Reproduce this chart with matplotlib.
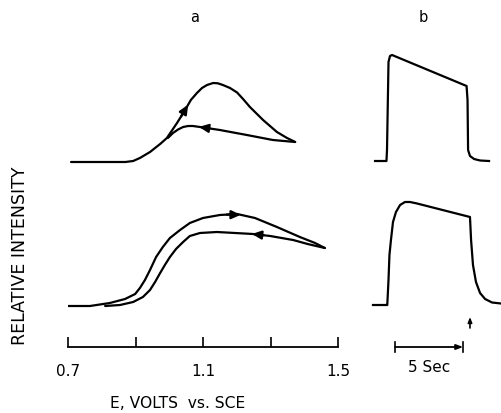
import numpy as np
import matplotlib
matplotlib.use("Agg")
import matplotlib.pyplot as plt

# ---------------- data ----------------
# Panel a: luminescence intensity during cyclic potential sweep, E (V vs SCE)
top_fwd_V = [0.709, 0.870, 0.893, 0.913, 0.943, 0.973, 0.993, 1.023, 1.047, 1.064,
             1.082, 1.097, 1.112, 1.130, 1.144, 1.159, 1.180, 1.201, 1.220, 1.239,
             1.278, 1.319, 1.349, 1.373]
top_fwd_I = [0, 0, 1, 4, 10, 18, 24, 39, 52, 62,
             69, 74, 77, 79, 78.7, 77, 74, 69.5, 62.5, 55,
             42, 30, 24, 20]
top_ret_V = [1.373, 1.307, 1.230, 1.150, 1.091, 1.070, 1.056, 1.041, 1.026, 1.011, 0.996]
top_ret_I = [20, 22, 27, 32, 35, 36, 36, 35, 32.5, 29, 24]

bot_fwd_V = [0.700, 0.765, 0.824, 0.869, 0.899, 0.913, 0.928, 0.943, 0.961, 0.981,
             1.002, 1.032, 1.061, 1.100, 1.150, 1.201, 1.254, 1.319, 1.387, 1.432, 1.461]
bot_fwd_I = [0, 0, 3, 7, 12, 18, 26, 36, 49, 59,
             68, 76, 83, 88, 91, 92, 88, 79, 69, 63, 58]
bot_ret_V = [1.461, 1.410, 1.367, 1.299, 1.248, 1.195, 1.141, 1.091, 1.061, 1.041,
             1.020, 1.002, 0.987, 0.973, 0.958, 0.943, 0.922, 0.893, 0.854, 0.810]
bot_ret_I = [58, 62, 66, 70, 72, 73, 74, 73, 70, 64,
             57, 49, 41, 33, 24, 16, 9, 4, 1, 0]

top_offset_a = 185
bot_offset_a = 41

a_ticks = [0.7, 0.9, 1.1, 1.3, 1.5]
a_ticklabels = ["0.7", "", "1.1", "", "1.5"]

# Panel b: intensity vs time (s) for potential steps
top_b_t = [-0.88, -0.04, 0.0, 0.11, 0.22, 0.37, 5.85, 5.92, 5.96, 6.10, 6.40, 6.84, 7.5]
top_b_I = [0, 0, 11, 99, 105, 106, 75, 61, 11, 5, 2, 0.5, 0]
bot_b_t = [-1.03, 0.0, 0.02, 0.11, 0.18, 0.29, 0.44, 0.66, 0.96, 1.32, 1.69, 2.21,
           6.10, 6.18, 6.32, 6.54, 6.84, 7.21, 7.72, 8.38]
bot_b_I = [0, 0, 0, 25, 50, 65, 83, 93, 100, 103, 103, 101.5,
           88, 65, 40, 23, 12, 6, 2.5, 1.5]
top_offset_b = 186
bot_offset_b = 42

scale_bar_t = [0.6, 5.6]   # 5 s
step_off_t = 6.1

# ---------------- figure ----------------
W, H = 501, 413
fig = plt.figure(figsize=(W / 100, H / 100), dpi=100)
plt.rcParams['font.family'] = ['DejaVu Sans']

LW = 1.6
col = 'black'

def px_axes(x0, x1, ytop, ybot):
    return fig.add_axes([x0 / W, 1 - ybot / H, (x1 - x0) / W, (ybot - ytop) / H])

axa = px_axes(68, 338, 40, 347)
axa.set_xlim(0.7, 1.5)
axa.set_ylim(0, 307)

def arr(v, o):
    return np.asarray(v, float) + o

for V, I, off in [(top_fwd_V, top_fwd_I, top_offset_a), (top_ret_V, top_ret_I, top_offset_a),
                  (bot_fwd_V, bot_fwd_I, bot_offset_a), (bot_ret_V, bot_ret_I, bot_offset_a)]:
    axa.plot(V, arr(I, off), color=col, lw=LW, solid_joinstyle='round', solid_capstyle='round')

def curve_arrow(ax, V, I, off, v_from, v_to):
    V = np.asarray(V, float); I = np.asarray(I, float) + off
    order = np.argsort(V)
    y_from = np.interp(v_from, V[order], I[order])
    y_to = np.interp(v_to, V[order], I[order])
    ax.annotate('', xy=(v_to, y_to), xytext=(v_from, y_from),
                arrowprops=dict(arrowstyle='-|>,head_length=0.55,head_width=0.25',
                                color=col, lw=LW, shrinkA=0, shrinkB=0))

curve_arrow(axa, top_fwd_V, top_fwd_I, top_offset_a, 1.035, 1.056)
curve_arrow(axa, top_ret_V, top_ret_I, top_offset_a, 1.120, 1.088)
curve_arrow(axa, bot_fwd_V, bot_fwd_I, bot_offset_a, 1.170, 1.212)
curve_arrow(axa, bot_ret_V, bot_ret_I, bot_offset_a, 1.280, 1.245)

for s in ['left', 'top', 'right']:
    axa.spines[s].set_visible(False)
axa.spines['bottom'].set_linewidth(1.3)
axa.set_yticks([])
axa.set_xticks(a_ticks)
axa.set_xticklabels(a_ticklabels)
axa.tick_params(axis='x', direction='in', length=7, width=1.2, pad=12, labelsize=11)

# panel b
axb = px_axes(370, 501, 40, 347)
axb.set_xlim(-1.25, 8.38)
axb.set_ylim(0, 307)
axb.axis('off')
axb.plot(top_b_t, arr(top_b_I, top_offset_b), color=col, lw=LW, solid_joinstyle='round')
axb.plot(bot_b_t, arr(bot_b_I, bot_offset_b), color=col, lw=LW, solid_joinstyle='round')

# scale bar
axb.annotate('', xy=(scale_bar_t[1], 0), xytext=(scale_bar_t[0], 0),
             arrowprops=dict(arrowstyle='-|>,head_length=0.4,head_width=0.15',
                             color=col, lw=1.3, shrinkA=0, shrinkB=0),
             annotation_clip=False)
for t in scale_bar_t:
    axb.plot([t, t], [-5, 5], color=col, lw=1.2, clip_on=False)
axb.text(np.mean(scale_bar_t), -20, '5 Sec', ha='center', va='center', fontsize=11)

# step-off marker
axb.annotate('', xy=(step_off_t, 30), xytext=(step_off_t, 19),
             arrowprops=dict(arrowstyle='-|>,head_length=0.3,head_width=0.12',
                             color=col, lw=1.2, shrinkA=0, shrinkB=0))

# labels
fig.text(195 / W, 1 - 18 / H, 'a', ha='center', va='center', fontsize=10.5)
fig.text(423 / W, 1 - 17 / H, 'b', ha='center', va='center', fontsize=10.5)
fig.text(20 / W, 1 - 256 / H, 'RELATIVE INTENSITY', rotation=90,
         ha='center', va='center', fontsize=12.5)
fig.text(178 / W, 1 - 403 / H, 'E, VOLTS  vs. SCE', ha='center', va='center', fontsize=11.2)

fig.savefig('out.png', dpi=100)
